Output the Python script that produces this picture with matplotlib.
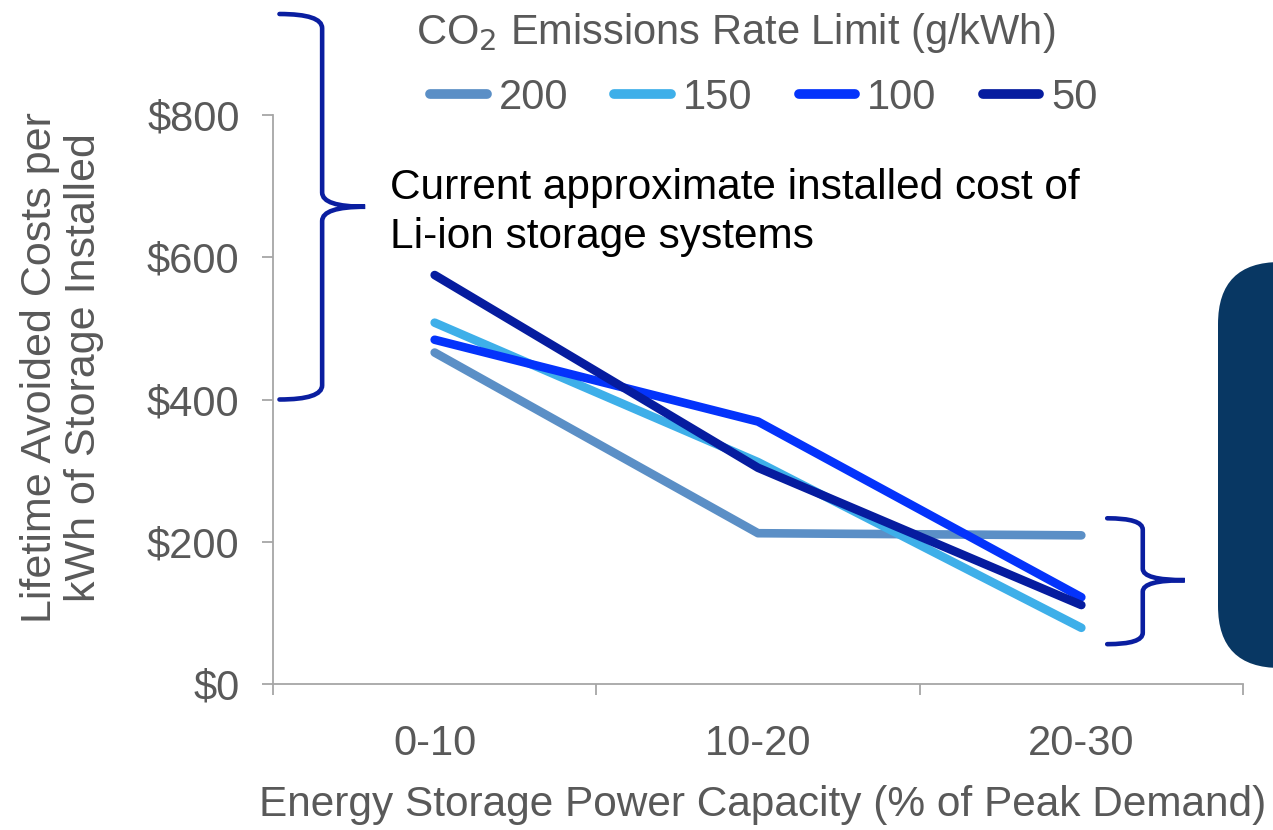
import matplotlib.pyplot as plt
import matplotlib.transforms as mtransforms
from matplotlib.patches import FancyBboxPatch, PathPatch
from matplotlib.path import Path

# --- data ---
categories = ['0-10', '10-20', '20-30']
limits = ['200', '150', '100', '50']
cost_200 = [466, 212, 209]
cost_150 = [508, 312, 79]
cost_100 = [484, 369, 122]
cost_50 = [575, 304, 111]
y_ticks = [0, 200, 400, 600, 800]

colors = ['#5b8fc6', '#3eafe9', '#0433fb', '#061c9f']
brace_color = '#0a1ea0'
gray = '#595959'

W, H = 1273, 830
plt.rcParams['font.family'] = ['Liberation Sans', 'DejaVu Sans']

fig = plt.figure(figsize=(W / 100, H / 100), dpi=100)
ax = fig.add_axes([273 / W, 1 - 684 / H, (1243 - 273) / W, (684 - 115) / H])

x = [0.5, 1.5, 2.5]
for vals, lab, c in zip([cost_200, cost_150, cost_100, cost_50], limits, colors):
    ax.plot(x, vals, color=c, lw=6.2, solid_capstyle='round', label=lab, zorder=3)

ax.set_xlim(0, 3)
ax.set_ylim(0, 800)
ax.set_yticks(y_ticks)
ax.set_yticklabels([f'${v}' for v in y_ticks])
ax.set_xticks([0, 1, 2, 3])
ax.set_xticklabels([])
ax.set_xticks(x, minor=True)
ax.set_xticklabels(categories, minor=True)
ax.tick_params(axis='x', which='major', direction='out', length=8, width=1.3, color='#a6a6a6')
ax.tick_params(axis='x', which='minor', length=0, pad=29, labelsize=30, labelcolor=gray)
ax.tick_params(axis='y', direction='out', length=8, width=1.3, color='#a6a6a6',
               pad=16, labelsize=30, labelcolor=gray)
for s in ['top', 'right']:
    ax.spines[s].set_visible(False)
for s in ['left', 'bottom']:
    ax.spines[s].set_color('#a6a6a6')
    ax.spines[s].set_linewidth(1.3)

# axis titles
fig.text(763 / W, 1 - 805 / H, 'Energy Storage Power Capacity (% of Peak Demand)',
         ha='center', va='center', fontsize=30.5, color=gray)
fig.text(62 / W, 1 - 368 / H, 'Lifetime Avoided Costs per\nkWh of Storage Installed',
         rotation=90, ha='center', va='center', fontsize=31, color=gray, linespacing=1.1)

# legend title and entries
fig.text(736 / W, 1 - 33 / H, 'CO$_2$ Emissions Rate Limit (g/kWh)',
         ha='center', va='center', fontsize=30, color=gray)
leg = ax.legend(ncol=4, loc='center', bbox_to_anchor=(764 / W, 1 - 98 / H),
                bbox_transform=fig.transFigure, frameon=False, fontsize=30,
                handlelength=1.35, handletextpad=0.3, columnspacing=1.1,
                borderpad=0, borderaxespad=0)
for t in leg.get_texts():
    t.set_color(gray)
for h in leg.get_lines():
    h.set_linewidth(7)
    h.set_solid_capstyle('round')

# annotation text
fig.text(390 / W, 1 - 248 / H, 'Current approximate installed cost of\nLi-ion storage systems',
         ha='left', va='baseline', fontsize=30.5, color='black', linespacing=1.3)


def brace(x_end, x_spine, x_tip, y_top, y_bot, y_tip, r):
    verts = [(x_end, y_top), (x_spine, y_top), (x_spine, y_top - r),
             (x_spine, y_tip + r), (x_spine, y_tip), (x_tip, y_tip),
             (x_spine, y_tip), (x_spine, y_tip - r),
             (x_spine, y_bot + r), (x_spine, y_bot), (x_end, y_bot)]
    codes = [Path.MOVETO, Path.CURVE3, Path.CURVE3,
             Path.LINETO, Path.CURVE3, Path.CURVE3,
             Path.CURVE3, Path.CURVE3,
             Path.LINETO, Path.CURVE3, Path.CURVE3]
    ax.add_patch(PathPatch(Path(verts, codes), fill=False, ec=brace_color, lw=3.3,
                           clip_on=False, zorder=4, capstyle='round'))


# left brace (data coords)
brace(0.02, 0.152, 0.285, 942, 400, 671, 20)
# right brace
brace(2.58, 2.69, 2.82, 233, 56, 146, 16)

# navy box cut at the right edge
fig.add_artist(FancyBboxPatch((1218, H - 668), 200, 406,
                              boxstyle='round,pad=0,rounding_size=62',
                              fc='#083763', ec='none',
                              transform=mtransforms.IdentityTransform()))

fig.savefig('out.png', dpi=100)
